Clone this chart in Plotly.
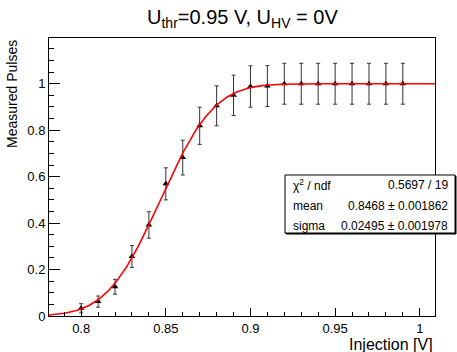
import math
import plotly.graph_objects as go

# Data
injection = [0.80, 0.81, 0.82, 0.83, 0.84, 0.85, 0.86, 0.87, 0.88, 0.89,
             0.90, 0.91, 0.92, 0.93, 0.94, 0.95, 0.96, 0.97, 0.98, 0.99]
pulses = [0.033, 0.062, 0.126, 0.256, 0.392, 0.569, 0.682, 0.819, 0.905, 0.950,
          0.988, 0.990, 1.0, 1.0, 1.0, 1.0, 1.0, 1.0, 1.0, 1.0]
errors = [0.020, 0.024, 0.032, 0.047, 0.057, 0.069, 0.075, 0.080, 0.086, 0.087,
          0.089, 0.088, 0.088, 0.088, 0.088, 0.088, 0.088, 0.088, 0.088, 0.088]

# Fit parameters (from the stats box)
fit_mean = 0.8468
fit_sigma = 0.02495
stats_rows = [("χ<sup>2</sup> / ndf", "0.5697 / 19"),
              ("mean", "0.8468 ± 0.001862"),
              ("sigma", "0.02495 ± 0.001978")]

x_range = [0.781, 1.009]
y_range = [0, 1.197]

n = 300
fit_x = [x_range[0] + (x_range[1] - x_range[0]) * i / (n - 1) for i in range(n)]
fit_y = [0.5 * (1 + math.erf((v - fit_mean) / (fit_sigma * math.sqrt(2)))) for v in fit_x]

FONT = "Liberation Sans, Arial, sans-serif"

fig = go.Figure()
fig.add_trace(go.Scatter(
    x=injection, y=pulses, mode="markers",
    marker=dict(symbol="triangle-up", size=6, color="black"),
    error_y=dict(type="data", array=errors, color="#333", thickness=1, width=2),
    showlegend=False, cliponaxis=False))
fig.add_trace(go.Scatter(
    x=fit_x, y=fit_y, mode="lines",
    line=dict(color="red", width=1.6), showlegend=False))

L, R, T, B = 49, 22, 38, 36
W, H = 457, 352
pw, ph = W - L - R, H - T - B

def px(x):
    return (x - L) / pw

def py(y):
    return (H - B - y) / ph

fig.update_layout(
    width=W, height=H,
    margin=dict(l=L, r=R, t=T, b=B, pad=0),
    paper_bgcolor="white", plot_bgcolor="white",
    font=dict(family=FONT, color="black", size=13),
    xaxis=dict(range=x_range, showgrid=False, zeroline=False,
               showline=True, mirror=True, linecolor="black", linewidth=1,
               ticks="inside", ticklen=8, tickcolor="black", tick0=0.8, dtick=0.05,
               tickfont=dict(size=13),
               minor=dict(ticks="inside", ticklen=4, dtick=0.01, tick0=0.8, tickcolor="black", showgrid=False)),
    yaxis=dict(range=y_range, showgrid=False, zeroline=False,
               showline=True, mirror=True, linecolor="black", linewidth=1,
               ticks="inside", ticklen=11, tickcolor="black", tick0=0, dtick=0.2,
               tickfont=dict(size=13),
               minor=dict(ticks="inside", ticklen=5, dtick=0.05, tick0=0, tickcolor="black", showgrid=False)),
)

annotations = [
    dict(text="U<sub>thr</sub>=0.95 V, U<sub>HV</sub> = 0V", x=0.5, y=py(19),
         xref="paper", yref="paper", xanchor="center", yanchor="middle",
         showarrow=False, font=dict(size=20)),
    dict(text="Measured Pulses", x=px(12), y=1.0, xref="paper", yref="paper",
         xanchor="center", yanchor="top", textangle=-90, showarrow=False,
         font=dict(size=14)),
    dict(text="Injection [V]", x=1.0, y=py(344), xref="paper", yref="paper",
         xanchor="right", yanchor="middle", showarrow=False, font=dict(size=16)),
]
row_y = [185, 205.5, 226]
for (lab, val), yy in zip(stats_rows, row_y):
    annotations.append(dict(text=lab, x=px(291), y=py(yy), xref="paper", yref="paper",
                            xanchor="left", yanchor="middle", showarrow=False,
                            font=dict(size=12)))
    annotations.append(dict(text=val, x=px(450), y=py(yy), xref="paper", yref="paper",
                            xanchor="right", yanchor="middle", showarrow=False,
                            font=dict(size=12)))
fig.update_layout(annotations=annotations)

fig.update_layout(shapes=[
    dict(type="rect", xref="paper", yref="paper", x0=px(286), x1=px(456), y0=py(234), y1=py(176),
         line=dict(color="black", width=1), fillcolor="black", layer="above"),
    dict(type="rect", xref="paper", yref="paper", x0=px(285), x1=px(455), y0=py(233), y1=py(175),
         line=dict(color="black", width=1), fillcolor="white", layer="above"),
])

fig.write_html("out.html", config={"displayModeBar": False},
               post_script="document.body.style.margin='0';document.body.style.padding='0';")
